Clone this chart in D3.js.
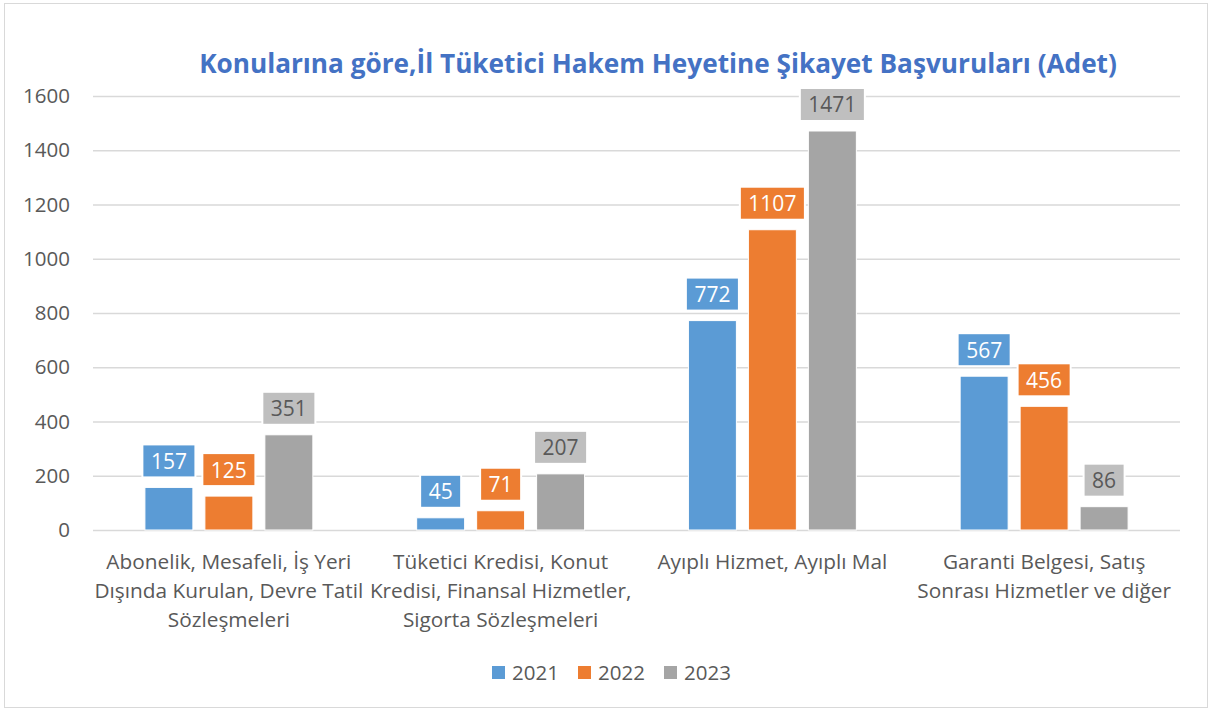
<!DOCTYPE html>
<html><head><meta charset="utf-8">
<script src="https://cdn.jsdelivr.net/npm/d3@7"></script>
<style>body{margin:0;background:#fff;} text{font-family:"Open Sans",sans-serif;}</style>
</head><body>
<svg id="c" width="1211" height="711"></svg>
<script>
const categories = [
  ["Abonelik, Mesafeli, İş Yeri","Dışında Kurulan, Devre Tatil","Sözleşmeleri"],
  ["Tüketici Kredisi, Konut","Kredisi, Finansal Hizmetler,","Sigorta Sözleşmeleri"],
  ["Ayıplı Hizmet, Ayıplı Mal"],
  ["Garanti Belgesi, Satış","Sonrası Hizmetler ve diğer"]
];
const seriesNames = ["2021","2022","2023"];
const values2021 = [157, 45, 772, 567];
const values2022 = [125, 71, 1107, 456];
const values2023 = [351, 207, 1471, 86];
const yTicks = [0,200,400,600,800,1000,1200,1400,1600];
const title = "Konularına göre,İl Tüketici Hakem Heyetine Şikayet Başvuruları (Adet)";

const series = [values2021, values2022, values2023];
const barColors = ["#5B9BD5","#ED7D31","#A5A5A5"];
const boxColors = ["#5B9BD5","#ED7D31","#BFBFBF"];
const boxText = ["#FFFFFF","#FFFFFF","#595959"];

const svg = d3.select("#c");
svg.append("rect").attr("x",4.5).attr("y",3.5).attr("width",1203).attr("height",704)
  .attr("fill","#fff").attr("stroke","#D9D9D9").attr("stroke-width",1);

const pL = 93, pR = 1180, pT = 96, pB = 530;
const y = d3.scaleLinear().domain([0,1600]).range([pB, pT]);
const x0 = d3.scaleBand().domain(d3.range(categories.length)).range([pL,pR]).paddingInner(0.382).paddingOuter(0.191);
const x1 = d3.scaleBand().domain(d3.range(series.length)).range([0,x0.bandwidth()]).paddingInner(0.2).paddingOuter(0);

// grid
const yAxis = d3.axisLeft(y).tickValues(yTicks).tickFormat(d3.format("d")).tickSize(-(pR-pL)).tickPadding(23);
const ga = svg.append("g").attr("transform",`translate(${pL},0)`).call(yAxis);
ga.select(".domain").remove();
ga.selectAll(".tick line").attr("stroke","#D9D9D9").attr("stroke-width",1.5);
ga.selectAll(".tick text").attr("fill","#595959").attr("font-size",20.5).attr("font-family","Open Sans");

// bars
series.forEach((vals,si)=>{
  svg.append("g").selectAll("rect").data(vals).join("rect")
    .attr("x",(d,i)=>x0(i)+x1(si))
    .attr("y",d=>y(d))
    .attr("width",x1.bandwidth())
    .attr("height",d=>y(0)-y(d))
    .attr("fill",barColors[si])
    .attr("stroke","#fff").attr("stroke-width",1);
});

// labels
series.forEach((vals,si)=>{
  vals.forEach((v,i)=>{
    const cx = x0(i)+x1(si)+x1.bandwidth()/2;
    const g = svg.append("g");
    const t = g.append("text").attr("x",cx).attr("y",y(v)-10-16.5).attr("text-anchor","middle")
      .attr("dominant-baseline","central").attr("font-size",21).attr("fill",boxText[si]).text(v);
    const w = t.node().getComputedTextLength()+17;
    g.insert("rect","text").attr("x",cx-w/2).attr("y",y(v)-10-33).attr("width",w).attr("height",33)
      .attr("fill",boxColors[si]).attr("stroke","#fff").attr("stroke-width",2);
  });
});

// category labels
categories.forEach((lines,i)=>{
  const cx = x0(i)+x0.bandwidth()/2;
  const t = svg.append("text").attr("text-anchor","middle").attr("fill","#595959").attr("font-size",20.8);
  lines.forEach((l,j)=>{
    t.append("tspan").attr("x",cx).attr("y",569+j*29).text(l);
  });
});

// title
svg.append("text").attr("x",658).attr("y",73).attr("text-anchor","middle")
  .attr("font-size",26.2).attr("font-weight","bold").attr("fill","#4472C4").text(title);

// legend
const lg = svg.append("g");
const legX = [492, 578, 664];
seriesNames.forEach((n,i)=>{
  lg.append("rect").attr("x",legX[i]).attr("y",666).attr("width",13).attr("height",13).attr("fill",barColors[i]);
  lg.append("text").attr("x",legX[i]+20).attr("y",680).attr("font-size",20.5).attr("fill","#595959").text(n);
});
</script>
</body></html>
